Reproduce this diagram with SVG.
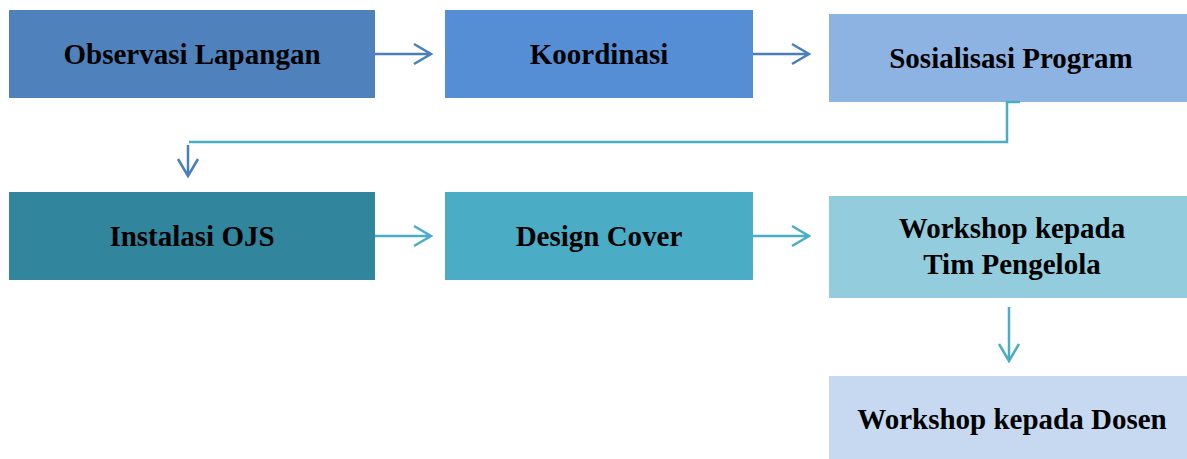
<svg xmlns="http://www.w3.org/2000/svg" width="1187" height="459" viewBox="0 0 1187 459">
<style>
text{font-family:"Liberation Serif","Times New Roman",serif;font-weight:bold;font-size:29px;fill:#000;text-anchor:middle}
.c1{stroke:#4a7ebb;stroke-width:2.5;fill:none}
.c2{stroke:#4bacc6;stroke-width:2.5;fill:none}
</style>
<rect width="1187" height="459" fill="#fff"/>
<g id="n1"><rect x="9" y="10" width="366" height="88" fill="#4f81bd"/><text x="192" y="64">Observasi Lapangan</text></g>
<g id="n2"><rect x="445" y="10" width="308" height="88" fill="#558ed5"/><text x="599" y="64">Koordinasi</text></g>
<g id="n3"><rect x="829" y="14" width="358" height="88" fill="#8db3e2"/><text x="1011" y="68">Sosialisasi Program</text></g>
<g id="n4"><rect x="9" y="192" width="366" height="88" fill="#31859c"/><text x="192" y="246">Instalasi OJS</text></g>
<g id="n5"><rect x="445" y="192" width="308" height="88" fill="#4bacc6"/><text x="599" y="246">Design Cover</text></g>
<g id="n6"><rect x="829" y="196" width="358" height="102" fill="#93cddd"/><text x="1012" y="238">Workshop kepada</text><text x="1012" y="274">Tim Pengelola</text></g>
<g id="n7"><rect x="829" y="376" width="358" height="83" fill="#c6d9f1"/><text x="1012" y="429">Workshop kepada Dosen</text></g>
<g id="connectors">
<path class="c1" d="M375 54H431M414 44L431 54L414 64"/>
<path class="c1" d="M753 54H809M792 44L809 54L792 64"/>
<path class="c2" d="M1020 102H1007V142H189"/>
<path class="c1" d="M188 145V176M178 159L188 176L198 159"/>
<path class="c2" d="M375 236H431M414 226L431 236L414 246"/>
<path class="c2" d="M753 236H809M792 226L809 236L792 246"/>
<path class="c2" d="M1009 307V361M999 344L1009 361L1019 344"/>
</g>
</svg>
